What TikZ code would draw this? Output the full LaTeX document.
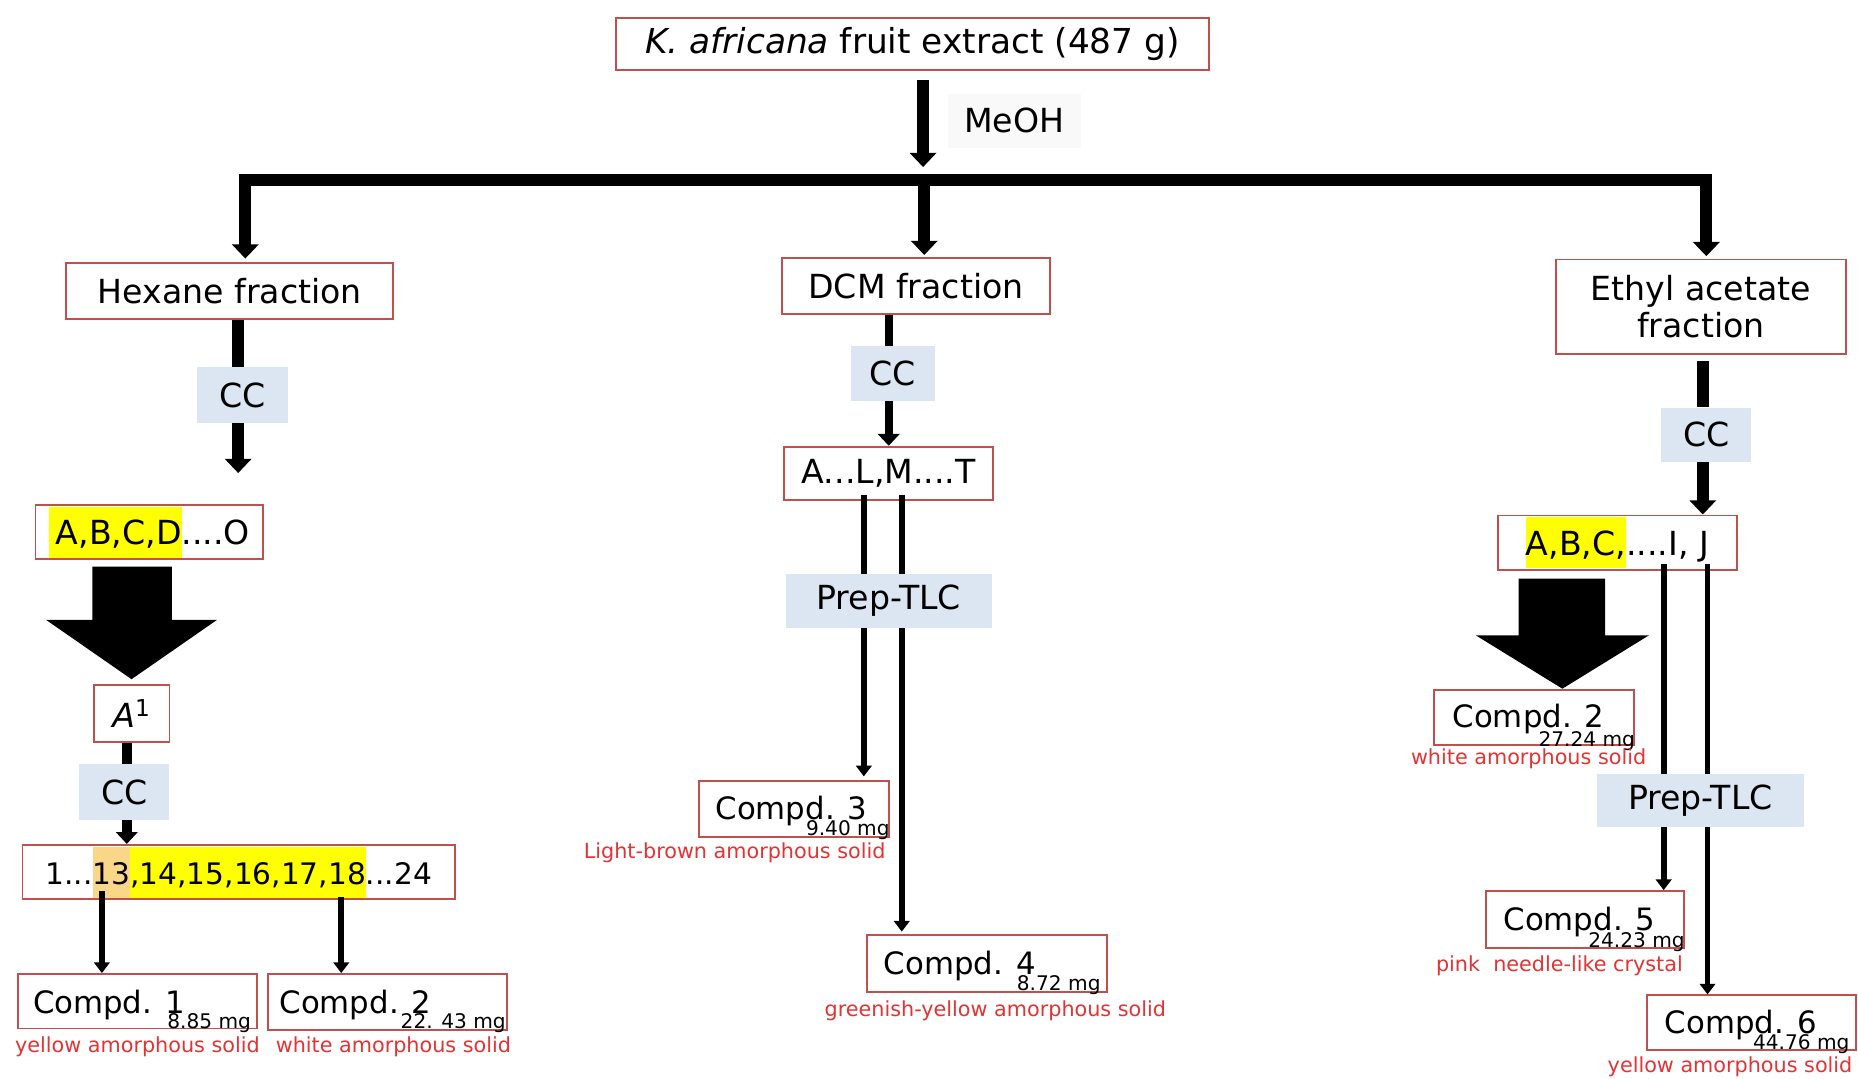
\documentclass[tikz,border=0pt]{standalone}
\usepackage{fontspec}
\setmainfont{DejaVu Sans}
\usetikzlibrary{arrows.meta,calc}
\definecolor{boxred}{RGB}{192,80,77}
\definecolor{ccblue}{RGB}{220,230,242}
\definecolor{redtxt}{RGB}{226,52,52}
\definecolor{hlyel}{RGB}{255,255,0}
\definecolor{hlorg}{RGB}{250,214,136}
\definecolor{meohbg}{RGB}{249,249,249}
\newcommand{\HLbox}[2]{{\setlength{\fboxsep}{0pt}\colorbox{#1}{\rule[-11pt]{0pt}{43pt}#2}}}
\begin{document}
\begin{tikzpicture}[x=1pt,y=-1pt,
  bx/.style={draw=boxred, line width=1.6pt, fill=white, inner sep=0pt},
  ccb/.style={fill=ccblue, inner sep=0pt},
  fr/.style={font=\fontsize{28}{31}\selectfont},
  cmp/.style={font=\fontsize{26}{30}\selectfont, inner sep=0pt},
  mgt/.style={font=\fontsize{17}{19}\selectfont, inner sep=0pt, anchor=base east},
  desc/.style={font=\fontsize{17.5}{20}\selectfont, text=redtxt, inner sep=0pt},
  w10/.style={line width=10pt},
  w8/.style={line width=8pt},
  w7/.style={line width=7pt},
  w5/.style={line width=5pt},
  tipL/.style={-{Triangle[width=22pt,length=12pt]}},
  tipM/.style={-{Triangle[width=18pt,length=10pt]}},
  tipS/.style={-{Triangle[width=13pt,length=9pt]}},
]
\fill[white] (0,0) rectangle (1568,910);
\path[use as bounding box] (0,0) rectangle (1568,910);

% ---- nodes ----
\node[bx, minimum width=500pt, minimum height=44pt, font=\fontsize{29}{32}\selectfont] (top) at (770,37) {\textit{K. africana} fruit extract (487 g)};
\node[fill=meohbg, minimum width=112pt, minimum height=45pt, inner sep=0pt, fr] (meoh) at (856,102) {MeOH};
\node[bx, minimum width=276pt, minimum height=47pt, fr] (hex) at (194,245.5) {Hexane fraction};
\node[bx, minimum width=226pt, minimum height=47pt, fr] (dcm) at (773,241.5) {DCM fraction};
\node[bx, minimum width=245pt, minimum height=80pt, fr, align=center] (ea) at (1435.5,259) {Ethyl acetate\\fraction};

\node[ccb, minimum width=77pt, minimum height=47pt, fr] (cc1) at (204.5,333.5) {CC};
\node[bx, minimum width=192pt, minimum height=46pt, fr] (abcd) at (126,449) {\HLbox{hlyel}{\hspace{6pt}A,B,C,D}....O};
\node[bx, minimum width=64pt, minimum height=48pt, fr] (a1) at (111,602) {\textit{A}\textsuperscript{1}};
\node[ccb, minimum width=76pt, minimum height=47pt, fr] (cc2) at (105,668.5) {CC};
\node[bx, minimum width=365pt, minimum height=46pt, font=\fontsize{25}{30}\selectfont] (nums) at (201.5,736) {1...\HLbox{hlorg}{13}\HLbox{hlyel}{,14,15,16,17,18}...24};

\node[ccb, minimum width=71pt, minimum height=46pt, fr] (cc3) at (753.5,315) {CC};
\node[bx, minimum width=176pt, minimum height=45pt, fr] (alm) at (750,399.5) {A...L,M....T};

\node[ccb, minimum width=76pt, minimum height=46pt, fr] (cc4) at (1440,367) {CC};
\node[bx, minimum width=202pt, minimum height=46pt, fr] (abcr) at (1365,458) {\HLbox{hlyel}{A,B,C,}....I, J};

% compounds
\node[bx, minimum width=202pt, minimum height=46pt] (c1) at (116,845) {};
\node[cmp] (c1t) at (92,848) {Compd. 1};
\node[mgt] (c1m) at (212,868) {8.85 mg};
\node[desc] (c1d) at (116,883) {yellow amorphous solid};

\node[bx, minimum width=202pt, minimum height=47pt] (c2) at (327,845.5) {};
\node[cmp] (c2t) at (300,848) {Compd. 2};
\node[mgt] (c2m) at (427,868) {22. 43 mg};
\node[desc] (c2d) at (332,883) {white amorphous solid};

\node[bx, minimum width=160pt, minimum height=47pt] (c3) at (670,682.5) {};
\node[cmp] (c3t) at (668,684) {Compd. 3};
\node[mgt] (c3m) at (751,705) {9.40 mg};
\node[desc] (c3d) at (620,720) {Light-brown amorphous solid};

\node[bx, minimum width=202pt, minimum height=48pt] (c4) at (833,813) {};
\node[cmp] (c4t) at (810,815) {Compd. 4};
\node[mgt] (c4m) at (929,836) {8.72 mg};
\node[desc] (c4d) at (840,853) {greenish-yellow amorphous solid};

\node[bx, minimum width=169pt, minimum height=47pt] (c2r) at (1294.5,605.5) {};
\node[cmp] (c2rt) at (1290,607) {Compd. 2};
\node[mgt] (c2rm) at (1380,630) {27.24 mg};
\node[desc] (c2rd) at (1290,640) {white amorphous solid};

\node[bx, minimum width=167pt, minimum height=48pt] (c5) at (1337.5,776) {};
\node[cmp] (c5t) at (1333,778) {Compd. 5};
\node[mgt] (c5m) at (1422,800) {24.23 mg};
\node[desc] (c5d) at (1316,815) {pink\ \ needle-like crystal};

\node[bx, minimum width=176pt, minimum height=46pt] (c6) at (1478,863) {};
\node[cmp] (c6t) at (1469,865) {Compd. 6};
\node[mgt] (c6m) at (1561,886) {44.76 mg};
\node[desc] (c6d) at (1460,900) {yellow amorphous solid};

% ---- connectors ----
\coordinate (split) at (780,152);
\coordinate (barL) at (207,152);
\coordinate (barR) at (1440,152);
\coordinate (meohTip) at (779,141);
\draw[w10, tipL, shorten <=8pt] (top.south -| meohTip) -- (meohTip);
\draw[w10] ([xshift=-5pt]barL) -- ([xshift=5pt]barR);
\draw[w10, tipL, shorten >=3pt] (barL) -- (hex.north -| barL);
\draw[w10, tipL, shorten >=2pt] (split) -- (dcm.north -| split);
\draw[w10, tipL, shorten >=2pt] (barR) -- (ea.north -| barR);

% left column
\coordinate (lx1) at (201,0);
\draw[w10] (hex.south -| lx1) -- (cc1.north -| lx1);
\draw[w10, tipL, shorten >=26pt] (cc1.south -| lx1) -- (abcd.north -| lx1);
\fill ([yshift=4pt]a1.north) -- ++(-72,-50) -- ++(39,0) -- ++(0,-45) -- ++(67,0) -- ++(0,45) -- ++(38,0) -- cycle;
\coordinate (lx2) at (107,0);
\draw[w8] (a1.south -| lx2) -- (cc2.north -| lx2);
\draw[w8, tipM] (cc2.south -| lx2) -- (nums.north -| lx2);
\coordinate (lx3) at (86,752);
\coordinate (lx4) at (288,757);
\draw[w5, tipS] (lx3) -- (c1.north -| lx3);
\draw[w5, tipS] (lx4) -- (c2.north -| lx4);

% middle column
\coordinate (mx1) at (750,0);
\draw[w7] (dcm.south -| mx1) -- (cc3.north -| mx1);
\draw[w7, tipM] (cc3.south -| mx1) -- (alm.north -| mx1);
\coordinate (mx2) at (729,418);
\coordinate (mx3) at (761,418);
\draw[w5, tipS, shorten >=3pt] (mx2) -- (c3.north -| mx2);
\draw[w5, tipS, shorten >=2pt] (mx3) -- (c4.north -| mx3);

% right column
\coordinate (rx1) at (1437,0);
\draw[w10, shorten <=5pt] (ea.south -| rx1) -- (cc4.north -| rx1);
\draw[w10, tipL] (cc4.south -| rx1) -- (abcr.north -| rx1);
\coordinate (bt2) at ($(c2r.north)+(24,0)$);
\fill (bt2) -- ++(-73,-45) -- ++(36,0) -- ++(0,-48) -- ++(73,0) -- ++(0,48) -- ++(37,0) -- cycle;
\coordinate (rx2) at (1404,476);
\coordinate (rx3) at (1441,476);
\draw[w5, tipS] (rx2) -- (c5.north -| rx2);
\draw[w5, tipS] (rx3) -- (c6.north -| rx3);

% Prep-TLC boxes over the lines
\node[ccb, minimum width=174pt, minimum height=46pt, fr] (ptlc1) at (750,507) {Prep-TLC};
\node[ccb, minimum width=174pt, minimum height=45pt, fr] (ptlc2) at (1435,675.5) {Prep-TLC};
\end{tikzpicture}
\end{document}
